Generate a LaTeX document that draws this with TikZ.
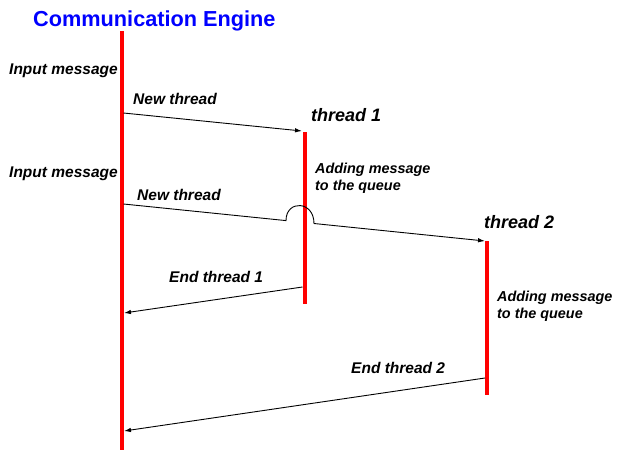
\documentclass[tikz,border=0pt]{standalone}
\usepackage{fontspec}
\setmainfont{Liberation Sans}
\usetikzlibrary{calc}
\usetikzlibrary{arrows.meta}

\begin{document}
\begin{tikzpicture}[x=1pt, y=-1pt,
  lifeline/.style={red, line width=4pt},
  msg/.style={black, line width=.9pt, -{Latex[length=7pt,width=4.5pt]}},
  lbl/.style={anchor=base west, inner sep=0pt, font=\fontsize{15.5}{17}\selectfont\bfseries\itshape},
  note/.style={lbl, font=\fontsize{14.4}{17}\selectfont\bfseries\itshape},
  thr/.style={lbl, font=\fontsize{18}{20}\selectfont\bfseries\itshape}]
\useasboundingbox (0,0) rectangle (622,450);
\node[anchor=base west, inner sep=0pt, text=blue, font=\fontsize{21.7}{24}\selectfont\bfseries] (title) at (33,26) {Communication Engine};
% life lines
\coordinate (E0) at (122,31);
\coordinate (E1) at (122,450);
\coordinate (T1a) at (304.5,132);
\coordinate (T1b) at (304.5,304);
\coordinate (T2a) at (487,241);
\coordinate (T2b) at (487,395);
\draw[lifeline] (E0)--(E1);
\draw[lifeline] (T1a)--(T1b);
\draw[lifeline] (T2a)--(T2b);
% message ends
\coordinate (n1s) at (123.5,113);
\coordinate (n1e) at (302,131);
\coordinate (n2s) at (123.5,204);
\coordinate (hopL) at (286,220.6);
\coordinate (hopR) at (314,223.5);
\coordinate (n2e) at (485,241);
\coordinate (x1s) at (302.5,287);
\coordinate (x1e) at (124,313);
\coordinate (x2s) at (485,378);
\coordinate (x2e) at (124,431);
\draw[msg] (n1s)--(n1e);
\draw[msg] (n2s)--(hopL) .. controls ($(hopL)+(0,-21)$) and ($(hopR)+(0,-23)$) .. (hopR)--(n2e);
\draw[msg] (x1s)--(x1e);
\draw[msg] (x2s)--(x2e);
% labels
\foreach \i/\y in {1/74, 2/177}{
 \node[lbl] (in\i) at (9,\y) {Input message};
}
\node[lbl] (new1) at (133,104) {New thread};
\node[lbl] (new2) at (137,200) {New thread};
\node[thr] (th1) at (311,121) {thread 1};
\node[thr] (th2) at (484,228) {thread 2};
\foreach \i/\x/\y in {1/315/173, 2/497/301}{
 \node[note] (add\i) at (\x,\y) {Adding message};
 \node[note] (que\i) at (\x,\y+17) {to the queue};
}
\node[lbl] (end1) at (169,282) {End thread 1};
\node[lbl] (end2) at (351,373) {End thread 2};
\end{tikzpicture}
\end{document}
